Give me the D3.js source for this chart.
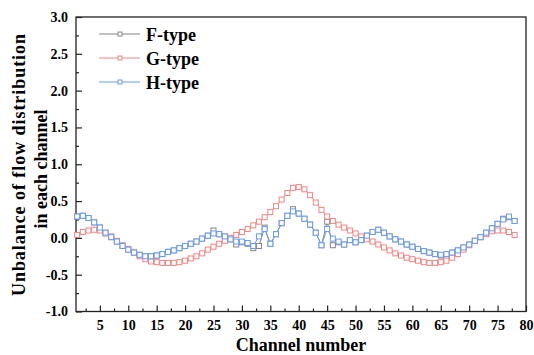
<!DOCTYPE html>
<html>
<head>
<meta charset="utf-8">
<script src="https://cdn.jsdelivr.net/npm/d3@7"></script>
<style>
  html, body { margin: 0; padding: 0; background: #fff; }
  svg { display: block; }
  svg text { font-family: "Liberation Serif", "Tinos", "DejaVu Serif", "Noto Serif", serif; font-weight: bold; fill: #000; }
</style>
</head>
<body>
<svg id="chart" width="534" height="355"></svg>
<script>
// Channel indices 1..78
const channels = d3.range(1, 79);

// Flow-distribution unbalance per channel
const fType = [
  0.29, 0.30, 0.27, 0.21, 0.14, 0.07, 0.01, -0.05, -0.11, -0.16,
  -0.20, -0.23, -0.25, -0.25, -0.24, -0.22, -0.19, -0.17, -0.14, -0.11,
  -0.08, -0.05, -0.01, 0.03, 0.10, 0.05, 0.02, -0.02, -0.09, -0.06,
  -0.08, -0.14, -0.11, 0.14, -0.08, 0.05, 0.20, 0.30, 0.39, 0.33,
  0.26, 0.18, 0.07, -0.10, 0.22, -0.10, -0.06, -0.09, -0.03, -0.06,
  -0.03, 0.03, 0.08, 0.11, 0.07, 0.02, -0.02, -0.05, -0.09, -0.12,
  -0.15, -0.18, -0.20, -0.22, -0.24, -0.26, -0.20, -0.17, -0.13, -0.09,
  -0.04, 0.01, 0.07, 0.13, 0.19, 0.26, 0.28, 0.23
];
const gType = [
  0.04, 0.08, 0.10, 0.11, 0.10, 0.06, 0.02, -0.04, -0.10, -0.15,
  -0.20, -0.25, -0.29, -0.32, -0.33, -0.34, -0.34, -0.34, -0.33, -0.31,
  -0.28, -0.25, -0.21, -0.16, -0.12, -0.08, -0.04, 0.00, 0.04, 0.08,
  0.12, 0.17, 0.22, 0.28, 0.35, 0.43, 0.52, 0.61, 0.68, 0.69,
  0.66, 0.58, 0.48, 0.38, 0.29, 0.23, 0.18, 0.14, 0.10, 0.06,
  0.02, -0.02, -0.05, -0.09, -0.13, -0.17, -0.21, -0.24, -0.27, -0.29,
  -0.31, -0.33, -0.34, -0.34, -0.33, -0.31, -0.27, -0.22, -0.16, -0.10,
  -0.04, 0.01, 0.05, 0.09, 0.10, 0.10, 0.08, 0.04
];
const hType = [
  0.29, 0.30, 0.27, 0.21, 0.14, 0.07, 0.01, -0.05, -0.11, -0.16,
  -0.20, -0.23, -0.25, -0.25, -0.24, -0.22, -0.19, -0.17, -0.14, -0.11,
  -0.08, -0.05, -0.01, 0.03, 0.06, 0.05, 0.02, -0.02, -0.05, -0.05,
  -0.07, -0.11, 0.02, 0.12, -0.08, 0.05, 0.20, 0.30, 0.36, 0.33,
  0.26, 0.18, 0.07, -0.10, 0.12, -0.01, -0.05, -0.09, -0.03, -0.06,
  -0.03, 0.03, 0.08, 0.11, 0.07, 0.02, -0.02, -0.05, -0.09, -0.12,
  -0.15, -0.18, -0.20, -0.22, -0.23, -0.22, -0.20, -0.17, -0.13, -0.09,
  -0.04, 0.01, 0.07, 0.13, 0.19, 0.25, 0.29, 0.23
];

const seriesNames = ["F-type", "G-type", "H-type"];
const seriesColors = ["#858585", "#f28484", "#6a9cec"];
const seriesValues = [fType, gType, hType];

const xMajorTicks = d3.range(5, 81, 5);
const xMinorTicks = d3.range(2.5, 80, 5);
const yMajorTicks = d3.range(-1, 3.01, 0.5);
const yMinorTicks = d3.range(-0.75, 3, 0.5);

const xTitle = "Channel number";
const yTitleLines = ["Unbalance of flow distribution", "in each channel"];

const fontStack = "'Liberation Serif', 'Tinos', 'DejaVu Serif', 'Noto Serif', serif";

const svg = d3.select("#chart");
const plotLeft = 76, plotRight = 526, plotTop = 17, plotBottom = 311.5;

const x = d3.scaleLinear().domain([0.8, 80]).range([plotLeft, plotRight]);
const y = d3.scaleLinear().domain([-1, 3]).range([plotBottom, plotTop]);

// Axes with inward ticks
const fmt = v => v.toFixed(1);

svg.append("g").attr("transform", `translate(0,${plotBottom})`)
  .call(d3.axisBottom(x).tickValues(xMajorTicks).tickSizeInner(-6).tickSizeOuter(0).tickPadding(9));
svg.append("g").attr("transform", `translate(0,${plotBottom})`)
  .call(d3.axisBottom(x).tickValues(xMinorTicks).tickSizeInner(-3).tickSizeOuter(0).tickFormat(""));

svg.append("g").attr("transform", `translate(${plotLeft},0)`)
  .call(d3.axisLeft(y).tickValues(yMajorTicks).tickFormat(fmt).tickSizeInner(-6).tickSizeOuter(0).tickPadding(8));
svg.append("g").attr("transform", `translate(${plotLeft},0)`)
  .call(d3.axisLeft(y).tickValues(yMinorTicks).tickSizeInner(-3).tickSizeOuter(0).tickFormat(""));

svg.selectAll("g").attr("font-family", null);
svg.selectAll(".domain").remove();
svg.selectAll(".tick line").attr("stroke", "#222").attr("stroke-width", 1.2);
svg.selectAll(".tick text")
  .style("font-family", fontStack)
  .style("font-weight", "bold")
  .style("font-size", "14px")
  .attr("fill", "#000");

// Plot frame
svg.append("rect")
  .attr("x", plotLeft).attr("y", plotTop)
  .attr("width", plotRight - plotLeft).attr("height", plotBottom - plotTop)
  .attr("fill", "none").attr("stroke", "#222").attr("stroke-width", 1.3);

// Series: line plus open square markers
const line = d3.line().x((d, i) => x(channels[i])).y(d => y(d));
const sq = 5;
seriesValues.forEach((vals, k) => {
  const g = svg.append("g");
  g.append("path").datum(vals)
    .attr("d", line)
    .attr("fill", "none")
    .attr("stroke", seriesColors[k])
    .attr("stroke-width", 1);
  g.selectAll("rect").data(vals).join("rect")
    .attr("x", (d, i) => x(channels[i]) - sq / 2)
    .attr("y", d => y(d) - sq / 2)
    .attr("width", sq).attr("height", sq)
    .attr("fill", "#fff")
    .attr("stroke", seriesColors[k])
    .attr("stroke-width", 1);
});

// Legend
seriesNames.forEach((name, k) => {
  const ly = 34 + k * 24;
  svg.append("line")
    .attr("x1", 99).attr("x2", 140).attr("y1", ly).attr("y2", ly)
    .attr("stroke", seriesColors[k]).attr("stroke-width", 1);
  svg.append("rect")
    .attr("x", 120 - 2).attr("y", ly - 2).attr("width", 4).attr("height", 4)
    .attr("fill", "#fff").attr("stroke", seriesColors[k]).attr("stroke-width", 1);
  svg.append("text")
    .attr("x", 146).attr("y", ly + 6.5)
    .style("font-family", fontStack)
    .style("font-size", "18px")
    .text(name);
});

// Axis titles
svg.append("text")
  .attr("x", (plotLeft + plotRight) / 2).attr("y", 351)
  .attr("text-anchor", "middle")
  .style("font-family", fontStack)
  .style("font-size", "18px")
  .text(xTitle);

svg.append("text")
  .attr("transform", "translate(25,165) rotate(-90)")
  .attr("text-anchor", "middle")
  .attr("textLength", 262)
  .attr("lengthAdjust", "spacing")
  .style("font-family", fontStack)
  .style("font-size", "18px")
  .text(yTitleLines[0]);
svg.append("text")
  .attr("transform", "translate(47,169) rotate(-90)")
  .attr("text-anchor", "middle")
  .style("font-family", fontStack)
  .style("font-size", "18px")
  .text(yTitleLines[1]);
</script>
</body>
</html>
